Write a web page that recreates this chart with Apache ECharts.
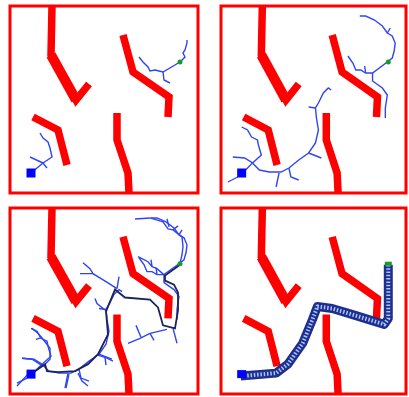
<!DOCTYPE html>
<html>
<head>
<meta charset="utf-8">
<script src="https://cdn.jsdelivr.net/npm/echarts@6/dist/echarts.min.js"></script>
<style>
  html, body { margin: 0; padding: 0; background: #fff; }
  #main { width: 409px; height: 397px; }
</style>
</head>
<body>
<div id="main"></div>
<script>
// all coords are pixel offsets inside one panel frame (x right, y down)
const obstacles = [
  [[42, 0], [41, 49], [66, 94], [79, 78]],
  [[113, 29], [123, 66], [159, 91], [158, 111]],
  [[23, 111], [48, 124], [57, 159]],
  [[107, 107], [107, 134], [118, 167], [119, 187]]
]
const startPt = [21, 167]
const goalPt = [170, 56]

// panel 1: first few branches
const tree1 = [
  [[170, 56], [175, 51], [173, 47], [175, 44], [177, 37], [179, 36], [177, 34]],
  [[170, 56], [153, 66], [145, 64], [140, 65], [138, 61], [133, 56], [129, 51]],
  [[153, 66], [154, 74], [160, 77]],
  [[21, 167], [33, 157], [42, 151], [40, 142], [38, 136], [33, 132], [30, 127]],
  [[33, 157], [20, 151]],
  [[33, 157], [37, 162]]
]

// panel 2: trees grow
const tree2 = [
  [[17, 171], [7, 176]],
  [[21, 168], [32, 157], [24, 152], [12, 151]],
  [[32, 157], [41, 149], [38, 139], [37, 134], [31, 131], [27, 124], [21, 121]],
  [[32, 157], [39, 164], [49, 166], [61, 166], [69, 162], [79, 154], [89, 147], [96, 137], [99, 124], [97, 112], [96, 102], [99, 97], [104, 87], [109, 82], [112, 84]],
  [[59, 167], [56, 181]],
  [[69, 162], [71, 171], [79, 174]],
  [[89, 147], [102, 152]],
  [[96, 102], [89, 101]],
  [[169, 56], [174, 52], [176, 45], [177, 37], [174, 30], [169, 27], [164, 20], [156, 14], [147, 10], [141, 10]],
  [[169, 27], [172, 22]],
  [[169, 56], [154, 67], [147, 67], [142, 64], [137, 64], [134, 57], [129, 50]],
  [[147, 67], [146, 60]],
  [[154, 67], [154, 75], [164, 82], [169, 89], [167, 102], [167, 112]]
]

// panel 3: trees meet, path found
const tree3 = [
  [[18, 167], [7, 179]],
  [[33, 159], [22, 152], [12, 151]],
  [[33, 159], [40, 152], [40, 141], [33, 132], [28, 126], [22, 121]],
  [[32, 130], [26, 132]],
  [[58, 166], [55, 181]],
  [[68, 166], [72, 174], [78, 179]],
  [[88, 148], [97, 151], [103, 154]],
  [[95, 150], [96, 158]],
  [[97, 104], [87, 96], [85, 91]],
  [[107, 81], [96, 74], [83, 66], [80, 61], [73, 55]],
  [[83, 66], [70, 66]],
  [[107, 81], [109, 69]],
  [[157, 122], [140, 126], [130, 131], [118, 136]],
  [[140, 126], [144, 133]],
  [[126, 118], [131, 130]],
  [[163, 121], [167, 136]],
  [[125, 11], [140, 10], [153, 14], [158, 21], [163, 22], [172, 29], [173, 39], [172, 47], [170, 56]],
  [[157, 11], [159, 19]],
  [[163, 22], [168, 18]],
  [[155, 68], [147, 61], [142, 59], [138, 54], [132, 51], [128, 49]],
  [[142, 59], [141, 52]]
]
const path3 = [
  [21, 167], [35, 157], [37, 164], [48, 165], [65, 164], [78, 157], [88, 147], [98, 127],
  [96, 104], [105, 82], [115, 90], [140, 92], [148, 100], [153, 118], [165, 121],
  [168, 103], [168, 85], [164, 77], [155, 73], [155, 68], [170, 57]
]

// panel 4: robot footprints along the smoothed path
const path4 = [
  [20, 169], [56, 166], [68, 157], [83, 136], [93, 112], [98, 99], [113, 101],
  [133, 107], [156, 114], [166, 117], [170, 111], [170, 76], [170, 57]
]

const panels = [
  { left: 10, top: 6, width: 188, height: 187 },
  { left: 221, top: 6, width: 185, height: 187 },
  { left: 10, top: 208, width: 188, height: 186 },
  { left: 221, top: 208, width: 185, height: 186 }
]

const RED = '#ff0000'
const BLUE = '#2f45f2'
const NAVY = '#1c2358'

function line(pts, g, color, width, z, extra) {
  return Object.assign({
    type: 'line', xAxisIndex: g, yAxisIndex: g, data: pts,
    showSymbol: false, symbol: 'none', silent: true, animation: false, z: z,
    lineStyle: { color: color, width: width, cap: 'butt', join: 'miter' }
  }, extra || {})
}

const series = []
panels.forEach(function (p, g) {
  obstacles.forEach(function (o) { series.push(line(o, g, RED, 7.5, 2)) })
  // the long diagonal of the first wall is drawn heavier
  series.push(line(obstacles[0].slice(1, 3), g, RED, 10, 2))
})
tree1.forEach(function (b) { series.push(line(b, 0, BLUE, 1.4, 3)) })
tree2.forEach(function (b) { series.push(line(b, 1, BLUE, 1.4, 3)) })
tree2.concat(tree3).forEach(function (b) { series.push(line(b, 2, BLUE, 1.4, 3)) })
series.push(line(path3, 2, NAVY, 1.8, 4))
series.push(line(path4, 3, '#1f2f8c', 9, 4, { lineStyle: { color: '#1f2f8c', width: 9, cap: 'butt', join: 'round' } }))
series.push(line(path4, 3, '#a8c4ff', 5, 5, { lineStyle: { color: '#a8c4ff', width: 4, type: [1.5, 1.8], cap: 'butt', join: 'round' } }))

panels.forEach(function (p, g) {
  series.push({
    type: 'scatter', xAxisIndex: g, yAxisIndex: g, data: [startPt],
    symbol: 'rect', symbolSize: g === 3 ? [9, 8] : 9, silent: true, animation: false, z: 6,
    itemStyle: { color: '#0000ff', opacity: 1 }
  })
  series.push({
    type: 'scatter', xAxisIndex: g, yAxisIndex: g, data: [goalPt],
    symbol: g === 3 ? 'rect' : 'circle', symbolSize: g === 3 ? [7, 4] : 5, silent: true, animation: false, z: 6,
    itemStyle: { color: '#1a9a2a', opacity: 1 }
  })
})

const option = {
  backgroundColor: '#fff',
  grid: panels.map(function (p) {
    return Object.assign({ show: true, borderColor: RED, borderWidth: 3, backgroundColor: '#fff', containLabel: false }, p)
  }),
  xAxis: panels.map(function (p, g) {
    return { type: 'value', gridIndex: g, min: 0, max: 188, show: false }
  }),
  yAxis: panels.map(function (p, g) {
    return { type: 'value', gridIndex: g, min: 0, max: 187, inverse: true, show: false }
  }),
  series: series
}

const chart = echarts.init(document.getElementById('main'))
chart.setOption(option)
</script>
</body>
</html>
